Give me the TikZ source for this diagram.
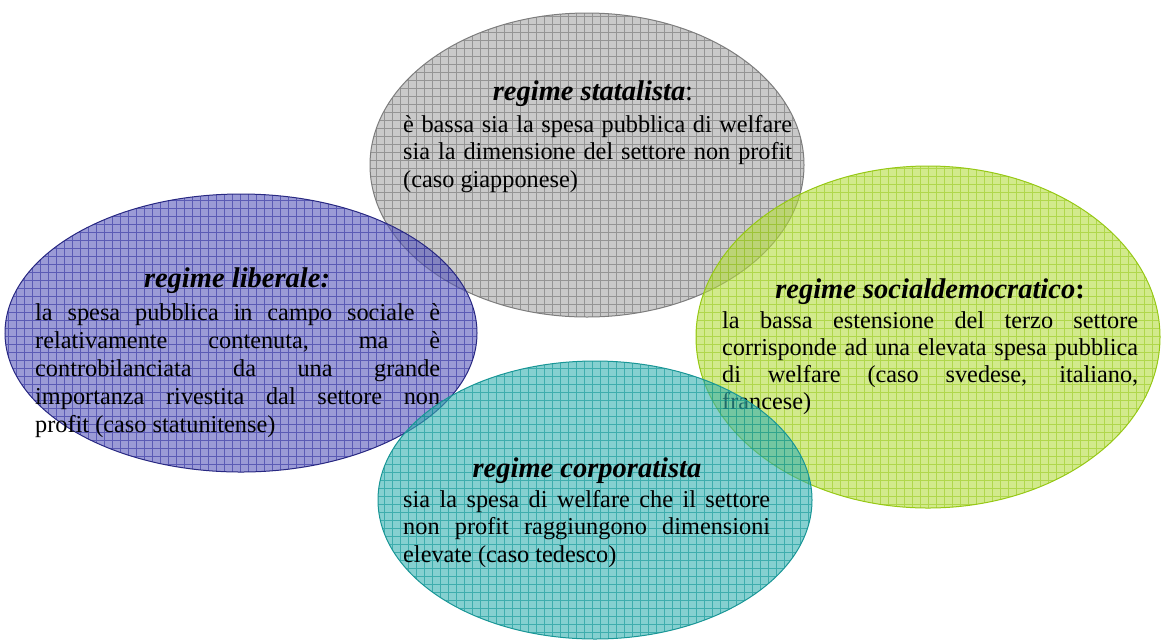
\documentclass[tikz,border=0pt]{standalone}
\usepackage{fontspec}
\setmainfont{Liberation Serif}
\begin{document}
\begin{tikzpicture}[x=1pt,y=-1pt,
  body/.style={inner sep=0pt, anchor=base west, font=\fontsize{24.3}{28}\selectfont},
  head/.style={inner sep=0pt, anchor=base, font=\fontsize{28.5}{32}\selectfont\bfseries\itshape},
  bubblefill/.style={fill opacity=0.6},
  bubblegrid/.style={draw opacity=0.55, line width=0.75pt},
  bubbleedge/.style={line width=1pt}]
\definecolor{grayF}{RGB}{165,165,165}
\definecolor{grayG}{RGB}{105,105,105}
\definecolor{grayE}{RGB}{125,125,125}
\definecolor{blueF}{RGB}{88,88,186}
\definecolor{blueG}{RGB}{40,40,155}
\definecolor{blueE}{RGB}{40,40,130}
\definecolor{greenF}{RGB}{180,220,63}
\definecolor{greenG}{RGB}{150,200,25}
\definecolor{greenE}{RGB}{150,200,20}
\definecolor{tealF}{RGB}{52,176,176}
\definecolor{tealG}{RGB}{5,145,145}
\definecolor{tealE}{RGB}{25,150,150}
\newcommand\jline[2]{\makebox[#1pt][s]{#2}}

\useasboundingbox (0,0) rectangle (1161,641);

% regime statalista
\fill[grayF, bubblefill] (587,165) ellipse [x radius=217, y radius=152];
\begin{scope}
  \clip (587,165) ellipse [x radius=217, y radius=152];
  \draw[grayG, bubblegrid, step=8pt] (370,10) grid (805,320);
\end{scope}
\draw[grayE, bubbleedge] (587,165) ellipse [x radius=217, y radius=152];
\node[head] (stT) at (593,100) {regime statalista\textup{\mdseries:}};
\node[body] (st1) at (403,132) {\jline{389}{è bassa sia la spesa pubblica di welfare}};
\node[body] (st2) at (403,159.5) {\jline{389}{sia la dimensione del settore non profit}};
\node[body] (st3) at (403,187) {(caso giapponese)};

% regime liberale
\fill[blueF, bubblefill] (241,333) ellipse [x radius=236, y radius=139];
\begin{scope}
  \clip (241,333) ellipse [x radius=236, y radius=139];
  \draw[blueG, bubblegrid, step=8pt] (0,190) grid (480,475);
\end{scope}
\draw[blueE, bubbleedge] (241,333) ellipse [x radius=236, y radius=139];
\node[head] (liT) at (237,287) {regime liberale:};
\node[body] (li1) at (35,320) {\jline{405}{la spesa pubblica in campo sociale è}};
\node[body] (li2) at (35,348) {\jline{405}{relativamente contenuta, ma è}};
\node[body] (li3) at (35,376) {\jline{405}{controbilanciata da una grande}};
\node[body] (li4) at (35,404) {\jline{405}{importanza rivestita dal settore non}};
\node[body] (li5) at (35,432) {profit (caso statunitense)};

% regime socialdemocratico
\fill[greenF, bubblefill] (928,337) ellipse [x radius=232, y radius=171];
\begin{scope}
  \clip (928,337) ellipse [x radius=232, y radius=171];
  \draw[greenG, bubblegrid, step=8pt] (690,160) grid (1161,510);
\end{scope}
\draw[greenE, bubbleedge] (928,337) ellipse [x radius=232, y radius=171];
\node[head] (soT) at (930,298) {regime socialdemocratico\textup{:}};
\node[body] (so1) at (722,328) {\jline{416}{la bassa estensione del terzo settore}};
\node[body] (so2) at (722,355) {\jline{416}{corrisponde ad una elevata spesa pubblica}};
\node[body] (so3) at (722,382) {\jline{416}{di welfare (caso svedese, italiano,}};
\node[body] (so4) at (722,409) {francese)};

% regime corporatista
\fill[tealF, bubblefill] (595,500) ellipse [x radius=217, y radius=139];
\begin{scope}
  \clip (595,500) ellipse [x radius=217, y radius=139];
  \draw[tealG, bubblegrid, step=8pt] (375,360) grid (815,641);
\end{scope}
\draw[tealE, bubbleedge] (595,500) ellipse [x radius=217, y radius=139];
\node[head] (coT) at (587,477) {regime corporatista};
\node[body] (co1) at (403,507) {\jline{367}{sia la spesa di welfare che il settore}};
\node[body] (co2) at (403,534.5) {\jline{367}{non profit raggiungono dimensioni}};
\node[body] (co3) at (403,562) {elevate (caso tedesco)};
\end{tikzpicture}
\end{document}
